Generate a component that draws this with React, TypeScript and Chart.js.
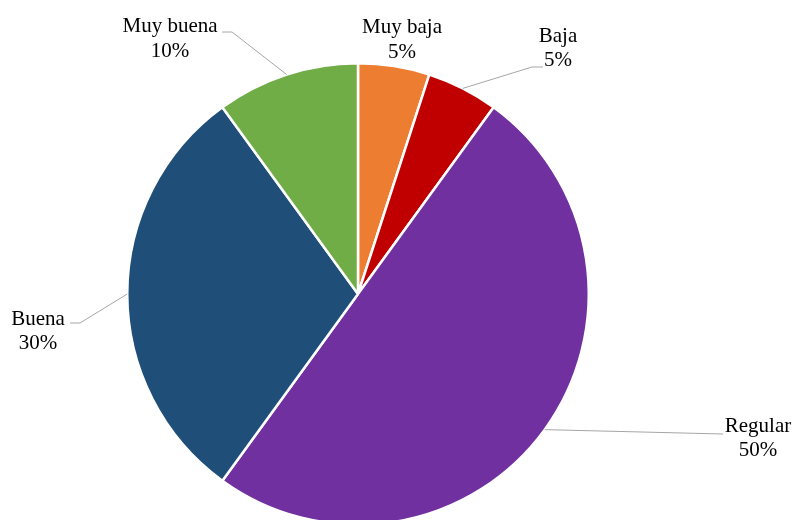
import React, { useEffect, useRef } from "react";
import { Chart, registerables } from "chart.js";

Chart.register(...registerables);

const categories = ["Muy baja", "Baja", "Regular", "Buena", "Muy buena"];
const percentages = [5, 5, 50, 30, 10];
const valueLabels = ["5%", "5%", "50%", "30%", "10%"];
const sliceColors = ["#ED7D31", "#C00000", "#7030A0", "#1F4E79", "#70AD47"];

// label layout: text centre x, baselines of two lines, leader-line path (elbow, end)
const labelLayout = [
  { x: 402, y1: 33, y2: 58, line: null as null | number[][] },
  { x: 558, y1: 42, y2: 66, line: [[532, 67], [543, 67]] },
  { x: 758, y1: 432, y2: 456, line: [[723, 434]] },
  { x: 38, y1: 325, y2: 349, line: [[80, 323], [70, 323]] },
  { x: 170, y1: 32, y2: 57, line: [[232, 32], [222, 32]] },
];

const labelPlugin = {
  id: "pieLabels",
  afterDatasetsDraw(chart: any) {
    const ctx = chart.ctx as CanvasRenderingContext2D;
    const meta = chart.getDatasetMeta(0);
    ctx.save();
    meta.data.forEach((arc: any, i: number) => {
      const L = labelLayout[i];
      const { x, y, startAngle, endAngle, outerRadius } = arc.getProps(
        ["x", "y", "startAngle", "endAngle", "outerRadius"],
        true
      );
      if (L.line) {
        const a = (startAngle + endAngle) / 2;
        const px = x + outerRadius * Math.cos(a);
        const py = y + outerRadius * Math.sin(a);
        ctx.beginPath();
        ctx.strokeStyle = "#A6A6A6";
        ctx.lineWidth = 1;
        ctx.moveTo(px, py);
        L.line.forEach((p) => ctx.lineTo(p[0], p[1]));
        ctx.stroke();
      }
      ctx.fillStyle = "#000000";
      ctx.font = '21px "Liberation Serif"';
      ctx.textAlign = "center";
      ctx.textBaseline = "alphabetic";
      ctx.fillText(categories[i], L.x, L.y1);
      ctx.fillText(valueLabels[i], L.x, L.y2);
    });
    ctx.restore();
  },
};

export default function App() {
  const ref = useRef<HTMLCanvasElement>(null);
  useEffect(() => {
    if (!ref.current) return;
    const chart = new Chart(ref.current, {
      type: "pie",
      data: {
        labels: categories,
        datasets: [
          {
            data: percentages,
            backgroundColor: sliceColors,
            borderColor: "#FFFFFF",
            borderWidth: 2.5,
          },
        ],
      },
      options: {
        animation: false,
        responsive: false,
        layout: { padding: { left: 126, right: 205, top: 62, bottom: 62 } },
        plugins: {
          legend: { display: false },
          tooltip: { enabled: false },
        },
      },
      plugins: [labelPlugin],
    });
    return () => chart.destroy();
  }, []);
  return (
    <div style={{ position: "fixed", left: 0, top: 0, width: 795, height: 588, background: "#fff" }}>
      <canvas ref={ref} width={795} height={588} style={{ width: 795, height: 588 }} />
    </div>
  );
}
